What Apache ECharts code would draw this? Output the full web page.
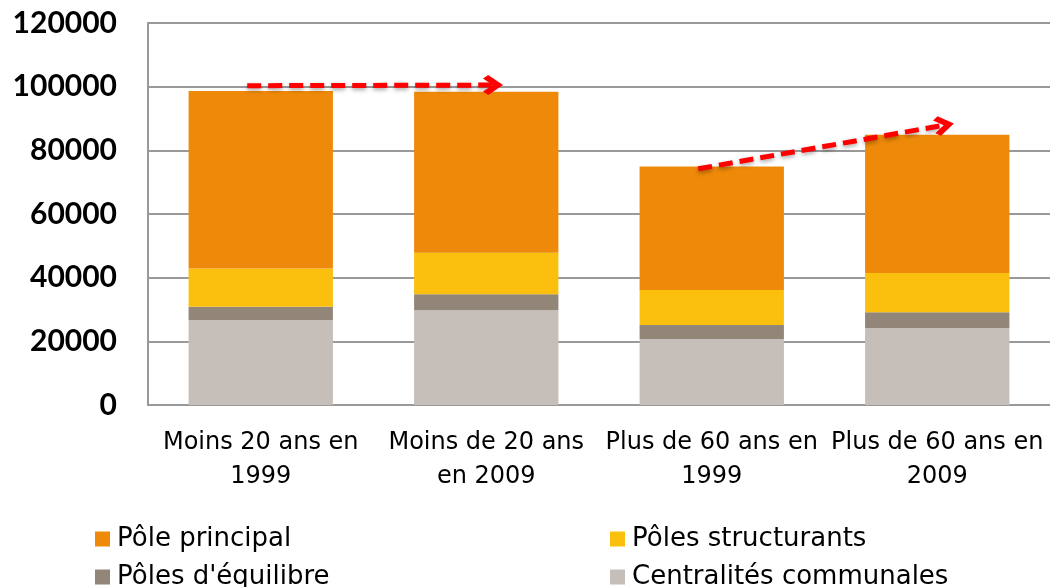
<!DOCTYPE html>
<html>
<head>
<meta charset="utf-8">
<script src="https://cdn.jsdelivr.net/npm/echarts@6/dist/echarts.min.js"></script>
<style>
	html,body{margin:0;padding:0;background:#fff;}
	#chart{width:1050px;height:587px;}
</style>
</head>
<body>
<div id="chart"></div>
<script>
	var categories = ['Moins 20 ans en\n1999','Moins de 20 ans\nen 2009','Plus de 60 ans en\n1999','Plus de 60 ans en\n2009'];
	var centralites = [26700, 29800, 20700, 24200];
	var equilibre = [4200, 5000, 4400, 4900];
	var structurants = [12000, 13000, 11000, 12400];
	var principal = [55700, 50600, 38800, 43400];
	// arrows, x in category units (0 = first bar centre)
	var arrowOne = [[-0.06, 100300], [1.03, 100500]];
	var arrowTwo = [[1.94, 74200], [3.03, 87900]];

	var textFont = 'DejaVu Sans';
	var chevron = 'path://M10,0 L20,10 L16.5,13.5 L10,7 L3.5,13.5 L0,10 Z';

	// one legend box per item, so the two rows x two columns layout is fixed
	var makeLegend = function(name, left, top){
		return {
			left:left,top:top,itemGap:0,
			itemWidth:15,itemHeight:15,icon:'rect',
			textStyle:{fontFamily:textFont,fontSize:26,color:'#000',padding:[0,0,0,2]},
			data:[name]
		};
	};

	var myChart = echarts.init(document.getElementById('chart'));
	var option = {
		animation:false,
		grid:{left:148,right:-2,top:23,bottom:182},
		legend:[
			makeLegend('Pôle principal',90,521),
			makeLegend('Pôles d\'équilibre',90,559),
			makeLegend('Pôles structurants',605,521),
			makeLegend('Centralités communales',605,559)
		],
		xAxis:[
			{
				type:'category',
				data:categories,
				axisLine:{lineStyle:{color:'#999',width:2}},
				axisTick:{show:false},
				axisLabel:{interval:0,fontFamily:textFont,fontSize:24,color:'#000',lineHeight:34,margin:21}
			},
			{
				type:'value',min:-0.5,max:3.5,show:false
			}
		],
		yAxis:{
			type:'value',min:0,max:120000,interval:20000,
			axisLine:{show:true,onZero:false,lineStyle:{color:'#999',width:2}},
			axisTick:{show:false},
			splitLine:{lineStyle:{color:'#999',width:2}},
			axisLabel:{fontFamily:'Lato',fontSize:30,fontWeight:'bold',color:'#000',margin:31,
				formatter:function(v){return String(v);}}
		},
		series:[
			{name:'Centralités communales',type:'bar',stack:'a',data:centralites,itemStyle:{color:'#C6BEB8'},barCategoryGap:'36%'},
			{name:'Pôles d\'équilibre',type:'bar',stack:'a',data:equilibre,itemStyle:{color:'#928679'}},
			{name:'Pôles structurants',type:'bar',stack:'a',data:structurants,itemStyle:{color:'#FAC00D'}},
			{name:'Pôle principal',type:'bar',stack:'a',data:principal,itemStyle:{color:'#EE8909'}},
			{
				type:'lines',
				coordinateSystem:'cartesian2d',
				xAxisIndex:1,
				yAxisIndex:0,
				symbol:['none',chevron],
				symbolSize:[26,20],
				z:10,
				lineStyle:{color:'#FF0000',width:5,type:[14,7],opacity:1,curveness:0,
					shadowColor:'rgba(0,0,0,0.35)',shadowBlur:4,shadowOffsetY:2},
				data:[{coords:arrowOne},{coords:arrowTwo}]
			}
		]
	};
	myChart.setOption(option);
</script>
</body>
</html>
